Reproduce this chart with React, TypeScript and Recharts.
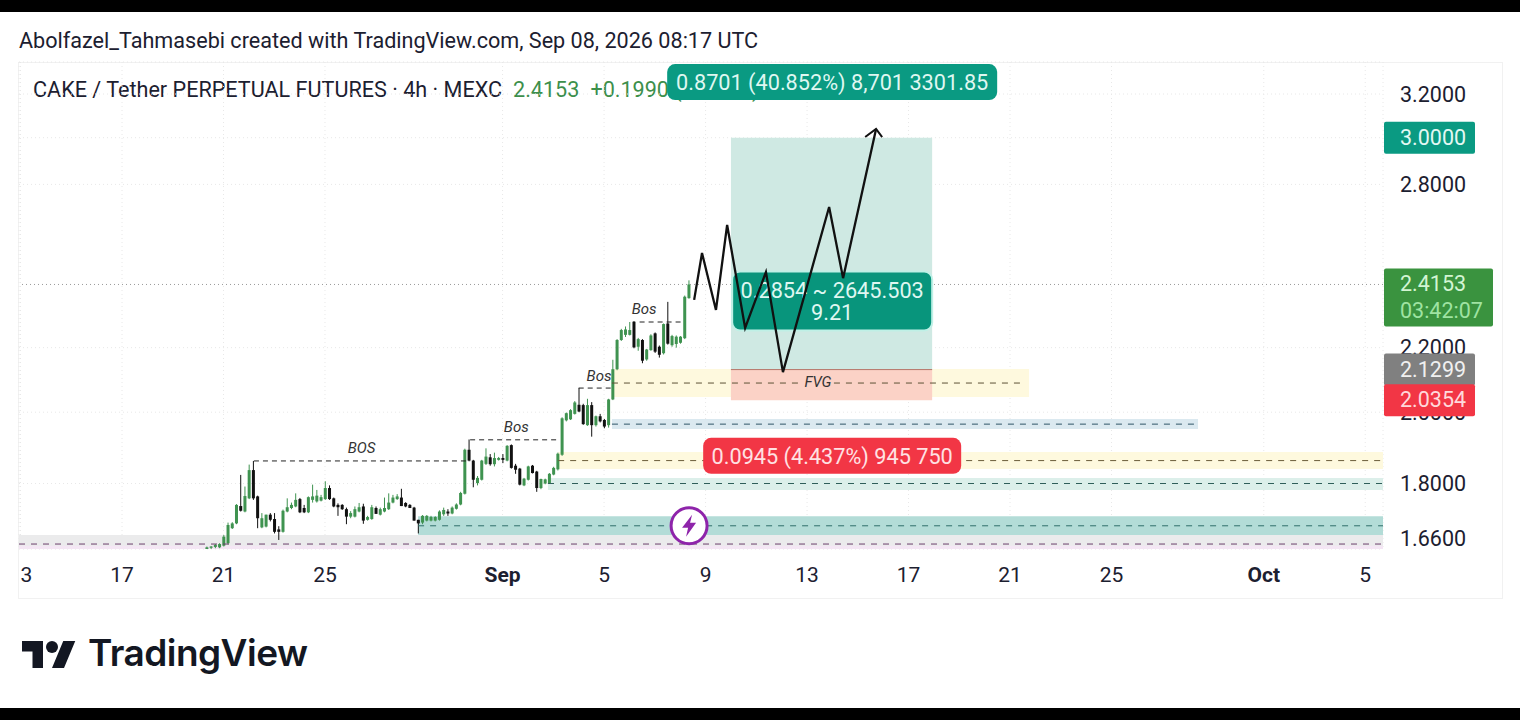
import { ComposedChart, Bar, Line, XAxis, YAxis, CartesianGrid, ReferenceArea, ReferenceLine, ReferenceDot } from "recharts"

// day numbers run on from August: Sep 1 = 32, Oct 1 = 62
const dayTicks = [13, 17, 21, 25, 32, 36, 40, 44, 48, 52, 56, 62, 66]
const dayLabels = ["3", "17", "21", "25", "Sep", "5", "9", "13", "17", "21", "25", "Oct", "5"]
const priceTicks = [1.66, 1.8, 2.0, 2.2, 2.8, 3.0, 3.2]

const firstCandleDay = 20.33
const candleStep = 4 / 24

// open, high, low, close
const lateAugustCandles = [
  [1.634, 1.64, 1.63, 1.638], [1.637, 1.641, 1.632, 1.64], [1.639, 1.646, 1.636, 1.644], [1.638, 1.648, 1.636, 1.646],
  [1.642, 1.668, 1.64, 1.664], [1.648, 1.699, 1.645, 1.693], [1.685, 1.7, 1.683, 1.697], [1.697, 1.746, 1.695, 1.744],
  [1.741, 1.823, 1.727, 1.729], [1.727, 1.792, 1.725, 1.767], [1.761, 1.851, 1.759, 1.836], [1.836, 1.861, 1.757, 1.761],
  [1.766, 1.768, 1.685, 1.71], [1.687, 1.723, 1.685, 1.71], [1.689, 1.719, 1.687, 1.719], [1.719, 1.723, 1.702, 1.706],
  [1.708, 1.723, 1.672, 1.676], [1.682, 1.69, 1.656, 1.676], [1.676, 1.732, 1.674, 1.729], [1.727, 1.761, 1.725, 1.738],
  [1.736, 1.75, 1.733, 1.744], [1.74, 1.774, 1.738, 1.757], [1.759, 1.762, 1.723, 1.725], [1.736, 1.744, 1.723, 1.725],
  [1.725, 1.766, 1.723, 1.764], [1.757, 1.797, 1.75, 1.766], [1.753, 1.783, 1.75, 1.768], [1.755, 1.77, 1.753, 1.764],
  [1.759, 1.806, 1.757, 1.788], [1.788, 1.795, 1.757, 1.759], [1.761, 1.763, 1.738, 1.74], [1.744, 1.748, 1.716, 1.738],
  [1.744, 1.746, 1.731, 1.733], [1.733, 1.737, 1.695, 1.714], [1.714, 1.728, 1.71, 1.723], [1.714, 1.74, 1.712, 1.733],
  [1.727, 1.749, 1.725, 1.738], [1.74, 1.747, 1.696, 1.704], [1.706, 1.716, 1.704, 1.713], [1.708, 1.744, 1.706, 1.738],
  [1.736, 1.74, 1.721, 1.721], [1.719, 1.737, 1.717, 1.733], [1.727, 1.763, 1.725, 1.736], [1.733, 1.774, 1.731, 1.75],
  [1.75, 1.77, 1.748, 1.763], [1.759, 1.772, 1.757, 1.766], [1.763, 1.786, 1.741, 1.741], [1.749, 1.751, 1.738, 1.74],
  [1.744, 1.746, 1.736, 1.736], [1.737, 1.739, 1.704, 1.704], [1.706, 1.706, 1.672, 1.697], [1.699, 1.718, 1.695, 1.716],
  [1.704, 1.718, 1.702, 1.716], [1.704, 1.716, 1.702, 1.713], [1.704, 1.715, 1.702, 1.713], [1.706, 1.73, 1.704, 1.727],
  [1.72, 1.737, 1.716, 1.731], [1.727, 1.733, 1.716, 1.722], [1.722, 1.74, 1.72, 1.737], [1.734, 1.748, 1.732, 1.745],
  [1.745, 1.778, 1.743, 1.775], [1.773, 1.895, 1.771, 1.892],
]
const earlySeptemberCandles = [
  [1.892, 1.921, 1.86, 1.862], [1.862, 1.864, 1.79, 1.81], [1.801, 1.82, 1.795, 1.815], [1.81, 1.864, 1.808, 1.862],
  [1.853, 1.896, 1.85, 1.873], [1.871, 1.88, 1.848, 1.852], [1.852, 1.884, 1.846, 1.869], [1.864, 1.872, 1.862, 1.869],
  [1.869, 1.88, 1.855, 1.864], [1.862, 1.905, 1.86, 1.903], [1.905, 1.907, 1.84, 1.842], [1.848, 1.853, 1.826, 1.837],
  [1.84, 1.842, 1.795, 1.797], [1.795, 1.815, 1.793, 1.813], [1.81, 1.848, 1.808, 1.846], [1.848, 1.85, 1.827, 1.828],
  [1.832, 1.834, 1.778, 1.788], [1.788, 1.813, 1.785, 1.812], [1.8, 1.813, 1.798, 1.811], [1.801, 1.828, 1.799, 1.826],
  [1.824, 1.845, 1.822, 1.842], [1.838, 1.884, 1.835, 1.881], [1.878, 1.985, 1.875, 1.982], [1.976, 1.999, 1.973, 1.997],
  [1.979, 2.009, 1.977, 2.006], [1.995, 2.033, 1.993, 2.029], [2.022, 2.073, 2.0, 2.002], [2.021, 2.025, 1.963, 1.965],
  [1.962, 2.04, 1.96, 2.021], [2.021, 2.03, 1.929, 1.962], [1.962, 1.99, 1.958, 1.988], [1.988, 1.995, 1.97, 1.973],
  [1.977, 1.98, 1.953, 1.958], [1.962, 2.04, 1.955, 2.038], [2.038, 2.161, 2.036, 2.131], [2.131, 2.228, 2.128, 2.225],
  [2.225, 2.262, 2.222, 2.258], [2.242, 2.27, 2.235, 2.26], [2.242, 2.285, 2.24, 2.258], [2.286, 2.288, 2.198, 2.201],
  [2.203, 2.232, 2.19, 2.228], [2.225, 2.228, 2.15, 2.158], [2.162, 2.196, 2.158, 2.194], [2.192, 2.244, 2.19, 2.24],
  [2.247, 2.25, 2.183, 2.187], [2.203, 2.207, 2.168, 2.177], [2.182, 2.28, 2.178, 2.278], [2.28, 2.354, 2.21, 2.213],
  [2.208, 2.242, 2.203, 2.238], [2.212, 2.24, 2.2, 2.236], [2.216, 2.238, 2.213, 2.236], [2.231, 2.376, 2.228, 2.372],
  [2.367, 2.43, 2.365, 2.4153],
]

const candleData = [...lateAugustCandles, ...earlySeptemberCandles].map(([open, high, low, close], i) => ({
  day: firstCandleDay + i * candleStep,
  open,
  high,
  low,
  close,
}))

// hand drawn forecast
const forecastDays = [39.55, 39.86, 40.41, 40.85, 41.56, 42.38, 43.05, 44.87, 45.42, 46.72]
const forecastPrices = [2.361, 2.53, 2.326, 2.637, 2.265, 2.46, 2.122, 2.708, 2.438, 3.039]
const arrowDays = [46.29, 46.72, 46.96]
const arrowPrices = [3.003, 3.039, 3.003]
const forecastData = forecastDays.map((day, i) => ({ day, path: forecastPrices[i] }))
const arrowData = arrowDays.map((day, i) => ({ day, path: arrowPrices[i] }))

const lastPrice = 2.4153
const targetPrice = 3.0
const entryPrice = 2.1299
const stopPrice = 2.0354

const xMin = 12.94
const xMax = 66.7
const yMin = 1.634
const yMax = 3.355

const UP = "#3f9350"
const DOWN = "#111111"
const TEAL = "#0a9a82"
const FONT = "Roboto, sans-serif"
const INK = "#1c2030"

function candleColor(p: any) {
  return p.close >= p.open ? UP : DOWN
}

function CandleRect(props: any) {
  const { x, y, width, height, payload } = props
  return <rect x={x} y={y} width={width} height={Math.max(Math.abs(height), 1)} fill={candleColor(payload)} />
}

function DayTick({ x, y, index }: any) {
  const label = dayLabels[index]
  const bold = label === "Sep" || label === "Oct"
  return (
    <text
      x={label === "3" ? x + 6 : x}
      y={y + 25}
      textAnchor="middle"
      fontFamily={FONT}
      fontSize={21}
      fontWeight={bold ? 700 : 400}
      fill={INK}
    >
      {label}
    </text>
  )
}

function noteText(text: string) {
  return (p: any) => (
    <text x={p.cx} y={p.cy} textAnchor="middle" fontFamily={FONT} fontSize={15} fontStyle="italic" fill="#333">
      {text}
    </text>
  )
}

function infoTag(lines: string[], w: number, h: number, fill: string, ink: string, border?: string) {
  return (p: any) => (
    <g>
      <rect
        x={p.cx - w / 2}
        y={p.cy - h / 2}
        width={w}
        height={h}
        rx={8}
        fill={fill}
        stroke={border ?? "none"}
        strokeWidth={border ? 2 : 0}
      />
      {lines.map((line, i) => (
        <text
          key={line}
          x={p.cx}
          y={p.cy + 8 + (i - (lines.length - 1) / 2) * 22}
          textAnchor="middle"
          fontFamily={FONT}
          fontSize={21.7}
          fill={ink}
        >
          {line}
        </text>
      ))}
    </g>
  )
}

function axisTag(text: string, fill: string, ink: string, sub?: string) {
  return (p: any) => {
    const top = p.cy - 16
    return (
      <g>
        <rect x={p.cx + 1} y={top} width={sub ? 109 : 91} height={sub ? 58 : 32} rx={2} fill={fill} />
        <text x={p.cx + 17} y={top + 23} fontFamily={FONT} fontSize={21.5} fill={ink}>
          {text}
        </text>
        {sub && (
          <text x={p.cx + 17} y={top + 50} fontFamily={FONT} fontSize={21.5} fill="#9fe3a2">
            {sub}
          </text>
        )}
      </g>
    )
  }
}

function BoltBadge(p: any) {
  return (
    <g transform={`translate(${p.cx},${p.cy})`}>
      <circle r={18} fill="#fff" stroke="#8e24aa" strokeWidth={3} />
      <path d="M3,-11 L-7,2 L-1,2 L-3,11 L7,-3 L1,-3 Z" fill="#8e24aa" />
    </g>
  )
}

export default function App() {
  return (
    <div style={{ position: "absolute", left: 0, top: 0, width: 1520, height: 720, background: "#fff", overflow: "hidden", fontFamily: FONT }}>
      <div style={{ position: "absolute", left: 0, top: 0, width: 1520, height: 12, background: "#000" }} />
      <div style={{ position: "absolute", left: 0, top: 708, width: 1520, height: 12, background: "#000" }} />
      <div style={{ position: "absolute", left: 19, top: 28, fontSize: 21.6, color: INK, whiteSpace: "nowrap" }}>
        Abolfazel_Tahmasebi created with TradingView.com, Sep 08, 2026 08:17 UTC
      </div>
      <div style={{ position: "absolute", left: 18, top: 62, width: 1483, height: 535, border: "1px solid #f1f1f1" }} />
      <div style={{ position: "absolute", left: 33, top: 77, fontSize: 21.6, color: INK, whiteSpace: "nowrap" }}>
        CAKE / Tether PERPETUAL FUTURES · 4h · MEXC
        <span style={{ color: "#3d8f4b", marginLeft: 11 }}>2.4153</span>
        <span style={{ color: "#3d8f4b", marginLeft: 11 }}>+0.1990 (+8.98%)</span>
      </div>

      <div style={{ position: "absolute", left: 0, top: 0 }}>
        <ComposedChart width={1520} height={720} data={candleData} margin={{ top: 62, left: 19, right: 18, bottom: 122 }}>
          <CartesianGrid stroke="#e8e8e8" strokeDasharray="1 3" xAxisId="body" />
          <XAxis
            xAxisId="body"
            dataKey="day"
            type="number"
            domain={[xMin, xMax]}
            allowDataOverflow
            ticks={dayTicks}
            interval={0}
            height={49}
            axisLine={false}
            tickLine={false}
            tick={DayTick}
          />
          <XAxis xAxisId="wick" dataKey="day" type="number" domain={[xMin, xMax]} allowDataOverflow hide />
          <YAxis
            orientation="right"
            type="number"
            scale="log"
            domain={[yMin, yMax]}
            allowDataOverflow
            ticks={priceTicks}
            interval={0}
            width={119}
            axisLine={false}
            tickLine={false}
            tick={{ fontFamily: FONT, fontSize: 21.5, fill: INK, dx: 9 }}
            tickFormatter={(v: number) => v.toFixed(4)}
          />

          <ReferenceArea xAxisId="body" x1={xMin} x2={xMax} y1={yMin} y2={1.668} fill="#ebebec" fillOpacity={1} stroke="none" />
          <ReferenceArea xAxisId="body" x1={xMin} x2={xMax} y1={yMin} y2={1.642} fill="#f4e6f4" fillOpacity={1} stroke="none" />
          <ReferenceArea xAxisId="body" x1={28.67} x2={xMax} y1={1.668} y2={1.715} fill="#b3dcd7" fillOpacity={1} stroke="none" />
          <ReferenceArea xAxisId="body" x1={33.79} x2={xMax} y1={1.783} y2={1.815} fill="#dcefea" fillOpacity={1} stroke="none" />
          <ReferenceArea xAxisId="body" x1={34.19} x2={xMax} y1={1.839} y2={1.886} fill="#fef9de" fillOpacity={1} stroke="none" />
          <ReferenceArea xAxisId="body" x1={36.31} x2={59.41} y1={1.951} y2={1.98} fill="#dbe9f0" fillOpacity={1} stroke="none" />
          <ReferenceArea xAxisId="body" x1={36.31} x2={52.75} y1={2.045} y2={2.132} fill="#fef9de" fillOpacity={1} stroke="none" />
          <ReferenceArea xAxisId="body" x1={41} x2={48.93} y1={entryPrice} y2={targetPrice} fill="#cfe9e3" fillOpacity={1} stroke="none" />
          <ReferenceArea xAxisId="body" x1={41} x2={48.93} y1={stopPrice} y2={entryPrice} fill="#fbd2c6" fillOpacity={1} stroke="none" />

          <ReferenceLine xAxisId="body" y={lastPrice} stroke="#999" strokeDasharray="1 3" />
          <ReferenceLine xAxisId="body" segment={[{ x: xMin, y: 1.646 }, { x: xMax, y: 1.646 }]} stroke="#6b3f6b" strokeDasharray="6 6" />
          <ReferenceLine xAxisId="body" segment={[{ x: 28.67, y: 1.691 }, { x: xMax, y: 1.691 }]} stroke="#2f6f6a" strokeDasharray="6 6" />
          <ReferenceLine xAxisId="body" segment={[{ x: 33.79, y: 1.8 }, { x: xMax, y: 1.8 }]} stroke="#2f5f5a" strokeDasharray="6 6" />
          <ReferenceLine xAxisId="body" segment={[{ x: 34.19, y: 1.862 }, { x: xMax, y: 1.862 }]} stroke="#6b5d3a" strokeDasharray="6 6" />
          <ReferenceLine xAxisId="body" segment={[{ x: 36.31, y: 1.965 }, { x: 59.41, y: 1.965 }]} stroke="#2f5566" strokeDasharray="6 6" />
          <ReferenceLine xAxisId="body" segment={[{ x: 36.31, y: 2.088 }, { x: 43.84, y: 2.088 }]} stroke="#5c5236" strokeDasharray="6 6" />
          <ReferenceLine xAxisId="body" segment={[{ x: 45.06, y: 2.088 }, { x: 52.45, y: 2.088 }]} stroke="#5c5236" strokeDasharray="6 6" />
          <ReferenceLine xAxisId="body" segment={[{ x: 41, y: entryPrice }, { x: 48.93, y: entryPrice }]} stroke="#b5766a" />

          <ReferenceLine xAxisId="body" segment={[{ x: 22.2, y: 1.861 }, { x: 30.72, y: 1.861 }]} stroke="#222" strokeDasharray="5 4" />
          <ReferenceLine xAxisId="body" segment={[{ x: 30.72, y: 1.92 }, { x: 34.2, y: 1.92 }]} stroke="#222" strokeDasharray="5 4" />
          <ReferenceLine xAxisId="body" segment={[{ x: 35.0, y: 2.0725 }, { x: 36.3, y: 2.0725 }]} stroke="#222" strokeDasharray="5 4" />
          <ReferenceLine xAxisId="body" segment={[{ x: 37.4, y: 2.285 }, { x: 39.1, y: 2.285 }]} stroke="#222" strokeDasharray="5 4" />

          <Bar xAxisId="wick" dataKey={(d: any) => [d.low, d.high]} barSize={1} shape={CandleRect} isAnimationActive={false} />
          <Bar xAxisId="body" dataKey={(d: any) => [Math.min(d.open, d.close), Math.max(d.open, d.close)]} barSize={3} shape={CandleRect} isAnimationActive={false} />

          <ReferenceDot xAxisId="body" x={26.44} y={1.882} ifOverflow="visible" shape={noteText("BOS")} />
          <ReferenceDot xAxisId="body" x={32.54} y={1.942} ifOverflow="visible" shape={noteText("Bos")} />
          <ReferenceDot xAxisId="body" x={35.8} y={2.094} ifOverflow="visible" shape={noteText("Bos")} />
          <ReferenceDot xAxisId="body" x={37.58} y={2.311} ifOverflow="visible" shape={noteText("Bos")} />
          <ReferenceDot xAxisId="body" x={44.43} y={2.077} ifOverflow="visible" shape={noteText("FVG")} />

          <ReferenceDot xAxisId="body" x={39.35} y={1.691} ifOverflow="visible" shape={BoltBadge} />
          <ReferenceDot xAxisId="body" x={44.99} y={3.257} ifOverflow="visible" shape={infoTag(["0.8701 (40.852%) 8,701 3301.85"], 330, 36, TEAL, "#dff7f1")} />
          <ReferenceDot xAxisId="body" x={44.99} y={2.357} ifOverflow="visible" shape={infoTag(["0.2854 ~ 2645.503", "9.21"], 200, 59, "#08957c", "#dff7f1", "#bff0e6")} />
          <ReferenceDot xAxisId="body" x={44.99} y={1.875} ifOverflow="visible" shape={infoTag(["0.0945 (4.437%) 945 750"], 258, 36, "#f23645", "#ffe1e3")} />

          <Line xAxisId="body" data={forecastData} dataKey="path" stroke="#111" strokeWidth={2.3} dot={false} isAnimationActive={false} zIndex={1500} />
          <Line xAxisId="body" data={arrowData} dataKey="path" stroke="#111" strokeWidth={2} dot={false} isAnimationActive={false} zIndex={1500} />

          <ReferenceDot xAxisId="body" x={xMax} y={targetPrice} ifOverflow="visible" shape={axisTag("3.0000", TEAL, "#e3f8f3")} zIndex={2500} />
          <ReferenceDot xAxisId="body" x={xMax} y={lastPrice} ifOverflow="visible" shape={axisTag("2.4153", "#3a933f", "#d3f5d3", "03:42:07")} zIndex={2500} />
          <ReferenceDot xAxisId="body" x={xMax} y={entryPrice} ifOverflow="visible" shape={axisTag("2.1299", "#808080", "#f0f0f0")} zIndex={2500} />
          <ReferenceDot xAxisId="body" x={xMax} y={stopPrice} ifOverflow="visible" shape={axisTag("2.0354", "#f23645", "#ffd9dc")} zIndex={2500} />
        </ComposedChart>
      </div>

      <svg width={54} height={42} viewBox="0 0 36 28" style={{ position: "absolute", left: 22, top: 635 }}>
        <path d="M14 22H7V11H0V4h14v18zM28 22h-8l7.5-18h8L28 22z" fill="#131722" />
        <circle cx={20} cy={8} r={4} fill="#131722" />
      </svg>
      <div style={{ position: "absolute", left: 88, top: 630, fontFamily: "Inter, sans-serif", fontSize: 37, fontWeight: 600, letterSpacing: -0.55, color: "#131722" }}>
        TradingView
      </div>
    </div>
  )
}
